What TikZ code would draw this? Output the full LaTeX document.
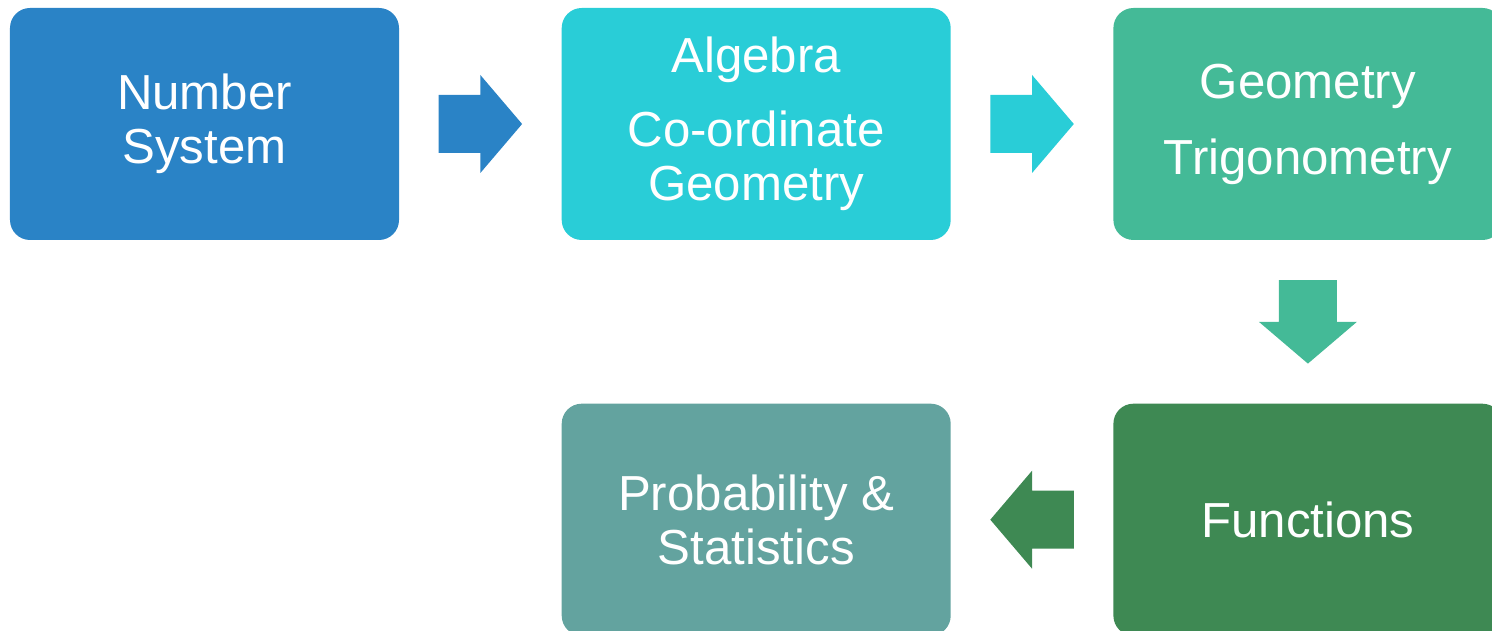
\documentclass[tikz,border=0pt]{standalone}
\usepackage{fontspec}
\setmainfont{Liberation Sans}
\usetikzlibrary{calc,positioning}
\definecolor{numblue}{HTML}{2A83C6}
\definecolor{algcyan}{HTML}{29CDD7}
\definecolor{geogreen}{HTML}{44BA97}
\definecolor{fungreen}{HTML}{3E8953}
\definecolor{probteal}{HTML}{63A39F}
\tikzset{blk/.pic={\fill[#1] (-0.835,0.58) -- (0,0.58) -- (0,0.98) -- (0.835,0) -- (0,-0.98) -- (0,-0.58) -- (-0.835,-0.58) -- cycle;}}

\begin{document}
\begin{tikzpicture}[
  topic/.style={rounded corners=0.4cm,minimum width=7.78cm,minimum height=4.64cm,inner sep=0pt,
    align=center,text=white,font=\fontsize{28}{30.7}\selectfont}]
\clip (0,0) rectangle (29.84,12.62);
\node[topic,fill=numblue] (ns) at (4.09,10.14) {Number\\ System};
\node[topic,fill=algcyan,right=3.24cm of ns] (alg) {Algebra\\[0.4cm] Co-ordinate\\ Geometry};
\node[topic,fill=geogreen,right=3.24cm of alg] (geo) {Geometry\\[0.44cm] Trigonometry};
\node[topic,fill=fungreen,below=3.26cm of geo] (fun) {Functions};
\node[topic,fill=probteal,left=3.24cm of fun] (prob) {Probability \&\\ Statistics};
\pic at ($(ns.east)!0.5!(alg.west)$) {blk=numblue};
\pic at ($(alg.east)!0.5!(geo.west)$) {blk=algcyan};
\pic[rotate=-90] at ($(geo.south)!0.5!(fun.north)$) {blk=geogreen};
\pic[rotate=180] at ($(fun.west)!0.5!(prob.east)$) {blk=fungreen};
\end{tikzpicture}
\end{document}
